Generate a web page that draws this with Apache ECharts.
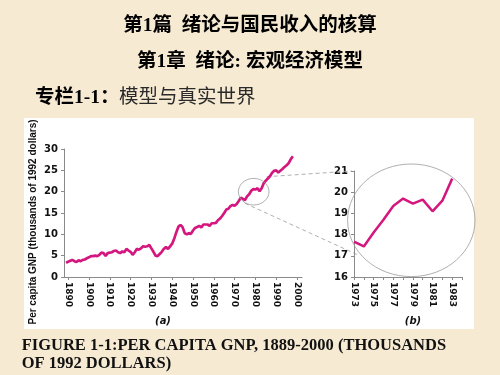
<!DOCTYPE html>
<html>
<head>
<meta charset="utf-8">
<script src="https://cdn.jsdelivr.net/npm/echarts@6.0.0/dist/echarts.min.js"></script>
<style>
html,body{margin:0;padding:0;background:#f6ead3;}
#c{width:500px;height:375px;}
</style>
</head>
<body>
<div id="c"></div>
<script>
// Panel (a): per capita GNP, thousands of 1992 dollars, 1889-1998
var startYearA = 1889;
var valuesA = [
  3.3, 3.6, 3.8, 4.0, 3.7, 3.5, 3.9, 3.7, 4.0, 4.1,
  4.4, 4.6, 4.9, 4.9, 5.0, 4.9, 5.2, 5.7, 5.6, 4.9,
  5.6, 5.7, 5.8, 6.1, 6.2, 5.8, 5.6, 6.0, 5.8, 6.6,
  6.2, 5.9, 5.2, 5.8, 6.6, 6.4, 6.7, 7.2, 7.1, 7.2,
  7.5, 6.7, 5.9, 5.0, 4.9, 5.4, 5.9, 6.6, 7.0, 6.6,
  7.2, 7.8, 9.0, 10.5, 11.8, 12.2, 11.7, 10.3, 10.0, 10.3,
  10.1, 10.9, 11.5, 11.7, 12.0, 11.6, 12.3, 12.3, 12.3, 12.0,
  12.6, 12.6, 12.7, 13.3, 13.7, 14.3, 15.0, 15.8, 16.0, 16.6,
  16.9, 16.7, 17.1, 17.8, 18.6, 18.3, 18.0, 18.9, 19.4, 20.2,
  20.6, 20.5, 20.8, 20.1, 20.8, 22.0, 22.6, 23.1, 23.6, 24.4,
  24.9, 25.0, 24.5, 24.9, 25.3, 25.8, 26.2, 26.7, 27.6, 28.3
];
var tickYearsA = [1890, 1900, 1910, 1920, 1930, 1940, 1950, 1960, 1970, 1980, 1990, 2000];

// Panel (b): zoom on 1973-1983
var yearsB = [1973, 1974, 1975, 1976, 1977, 1978, 1979, 1980, 1981, 1982, 1983];
var valuesB = [17.67, 17.44, 18.1, 18.7, 19.35, 19.7, 19.46, 19.65, 19.1, 19.6, 20.64];
var labelYearsB = [1973, 1975, 1977, 1979, 1981, 1983];
var tickYearsB = [1973, 1974, 1975, 1976, 1977, 1978, 1979, 1980, 1981, 1982, 1983, 1984];

var yNameText = 'Per capita GNP (thousands of 1992 dollars)';
var captionLine1 = 'FIGURE 1-1:PER CAPITA GNP, 1889-2000 (THOUSANDS';
var captionLine2 = 'OF 1992 DOLLARS)';

var dataA = valuesA.map(function (v, i) { return [startYearA + i, v]; });
var dataB = valuesB.map(function (v, i) { return [yearsB[i], v]; });

var lineColor = '#d4177f';
var axisColor = '#8a8a8a';
var lblFont = 'DejaVu Sans';
var cjkSerif = "'Liberation Serif','Noto Sans CJK SC'";

var chart = echarts.init(document.getElementById('c'), null, {renderer: 'canvas'});

function xAxisCommon(gridIndex, min, max, labelVals, tickVals) {
  return {
    type: 'value', gridIndex: gridIndex, min: min, max: max,
    axisLine: {show: true, onZero: false, lineStyle: {color: axisColor, width: 1}},
    axisTick: {show: true, length: 3, inside: false, customValues: tickVals, lineStyle: {color: axisColor}},
    axisLabel: {show: true, rotate: -90, margin: 5, customValues: labelVals,
      fontFamily: lblFont, fontWeight: 'bold', fontSize: 9, color: '#111',
      formatter: function (v) { return String(v); }},
    splitLine: {show: false}
  };
}
function yAxisCommon(gridIndex, min, max, interval) {
  return {
    type: 'value', gridIndex: gridIndex, min: min, max: max, interval: interval,
    axisLine: {show: true, lineStyle: {color: axisColor, width: 1}},
    axisTick: {show: true, length: 3, lineStyle: {color: axisColor}},
    axisLabel: {show: true, margin: 6, fontFamily: lblFont, fontWeight: 'bold', fontSize: 10, color: '#111'},
    splitLine: {show: false}
  };
}

var option = {
  backgroundColor: '#f6ead3',
  animation: false,
  grid: [
    {left: 64, top: 149, width: 238, height: 128, containLabel: false},
    {left: 354, top: 171, width: 108, height: 106, containLabel: false}
  ],
  xAxis: [
    xAxisCommon(0, 1888, 2002.4, tickYearsA, tickYearsA),
    xAxisCommon(1, 1973, 1984, labelYearsB, tickYearsB)
  ],
  yAxis: [
    yAxisCommon(0, 0, 30, 5),
    yAxisCommon(1, 16, 21, 1)
  ],
  series: [
    {type: 'line', xAxisIndex: 0, yAxisIndex: 0, data: dataA, showSymbol: false,
      lineStyle: {color: lineColor, width: 2.7}, z: 5},
    {type: 'line', xAxisIndex: 1, yAxisIndex: 1, data: dataB, showSymbol: false,
      lineStyle: {color: lineColor, width: 2.5}, z: 5}
  ],
  graphic: [
    {type: 'rect', z: -10, shape: {x: 24, y: 118, width: 450, height: 211}, style: {fill: '#ffffff'}},
    {type: 'text', left: 'center', top: 16, style: {text: '第1篇  绪论与国民收入的核算', font: 'bold 19.5px ' + cjkSerif, fill: '#000'}},
    {type: 'text', left: 'center', top: 52, style: {text: '第1章  绪论: 宏观经济模型', font: 'bold 19.5px ' + cjkSerif, fill: '#000'}},
    {type: 'text', x: 35, y: 97.7, style: {text: '专栏1-1：', font: 'bold 19.5px ' + cjkSerif, fill: '#000', textVerticalAlign: 'middle'}},
    {type: 'text', x: 119, y: 97.7, style: {text: '模型与真实世界', font: 'normal 19.5px ' + cjkSerif, fill: '#2a2a2a', textVerticalAlign: 'middle'}},
    {type: 'text', x: 33, y: 222, rotation: Math.PI / 2, style: {text: yNameText, font: 'bold 10px Liberation Sans', fill: '#111', textAlign: 'center', textVerticalAlign: 'middle'}},
    {type: 'text', x: 21.7, y: 346, style: {text: captionLine1, font: 'bold 16.5px Liberation Serif', fill: '#111', textVerticalAlign: 'middle'}},
    {type: 'text', x: 21.7, y: 363.5, style: {text: captionLine2, font: 'bold 16.5px Liberation Serif', fill: '#111', textVerticalAlign: 'middle'}},
    {type: 'text', x: 163, y: 321, style: {text: '(a)', font: 'italic bold 10px DejaVu Sans', fill: '#111', textAlign: 'center', textVerticalAlign: 'middle'}},
    {type: 'text', x: 413, y: 321.5, style: {text: '(b)', font: 'italic bold 10px DejaVu Sans', fill: '#111', textAlign: 'center', textVerticalAlign: 'middle'}},
    {type: 'ellipse', z: 10, shape: {cx: 253.7, cy: 191.7, rx: 15.3, ry: 13.3}, style: {fill: 'none', stroke: '#9a9a9a', lineWidth: 0.8}},
    {type: 'ellipse', z: 1, shape: {cx: 411.3, cy: 220.3, rx: 63.7, ry: 56.3}, style: {fill: 'none', stroke: '#9a9a9a', lineWidth: 0.8}},
    {type: 'line', z: 1, shape: {x1: 266.7, y1: 176.7, x2: 352, y2: 171}, style: {stroke: '#9a9a9a', lineWidth: 0.8, lineDash: [4, 3]}},
    {type: 'line', z: 1, shape: {x1: 245, y1: 203.3, x2: 358, y2: 255}, style: {stroke: '#9a9a9a', lineWidth: 0.8, lineDash: [4, 3]}}
  ]
};
chart.setOption(option);
</script>
</body>
</html>
